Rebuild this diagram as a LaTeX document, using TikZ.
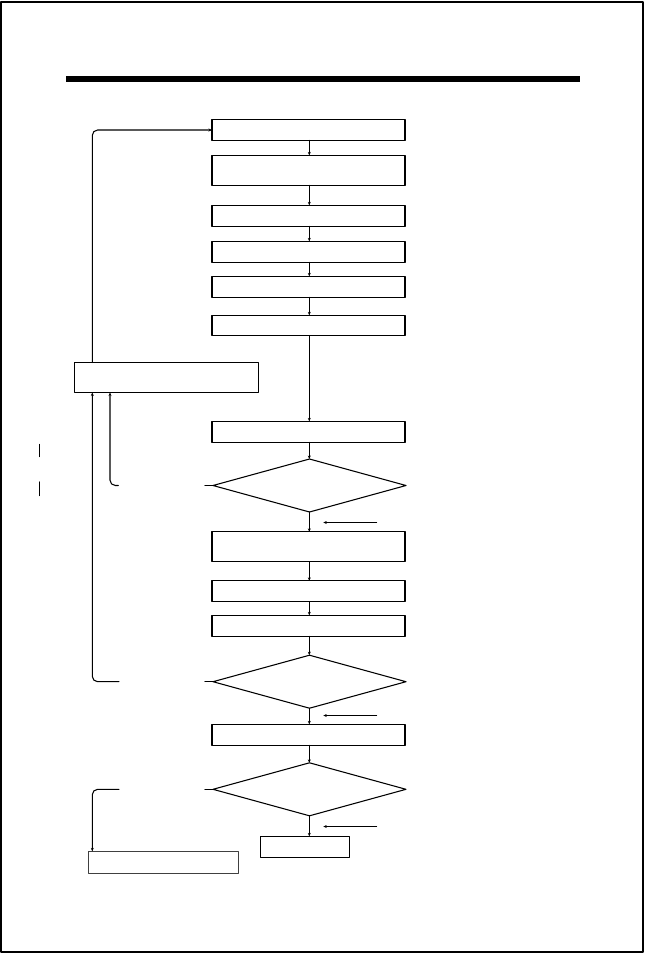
\documentclass[tikz,border=0pt]{standalone}
\usetikzlibrary{shapes.geometric,arrows.meta}
\begin{document}
\begin{tikzpicture}[x=.75pt, y=-.75pt, line join=round, line cap=round, >={Stealth[length=2.6pt,width=2.2pt]},
	box/.style={draw, line width=.8pt, rectangle, inner sep=0pt, outer sep=0pt, minimum width=193*.75pt, minimum height=21*.75pt},
	tall/.style={box, minimum height=30*.75pt},
	test/.style={draw, line width=.8pt, diamond, inner sep=0pt, outer sep=0pt, minimum width=193*.75pt, minimum height=53*.75pt},
	flow/.style={->, line width=.8pt},
	back/.style={->, line width=.8pt, rounded corners=4pt}]
	\def\cx{308.5}
	\useasboundingbox (0,0) rectangle (644,954);
	% page frame and heading rule
	\draw[line width=1.5pt] (1,1.5) rectangle (642.8,951.7);
	\fill (65.7,76.4) rectangle (580,82.1);
	% main column
	\node[box]  (b1)  at (\cx,130) {};
	\node[tall] (b2)  at (\cx,170.4) {};
	\node[box]  (b3)  at (\cx,215.8) {};
	\node[box]  (b4)  at (\cx,251.8) {};
	\node[box]  (b5)  at (\cx,286.8) {};
	\node[box, minimum height=20.4*.75pt] (b6) at (\cx,325.5) {};
	\node[box]  (b7)  at (\cx,431.8) {};
	\node[test] (d1)  at (\cx+1,485.5) {};
	\node[tall] (b8)  at (\cx,546.8) {};
	\node[box]  (b9)  at (\cx,591.3) {};
	\node[box]  (b10) at (\cx,625.8) {};
	\node[test] (d2)  at (\cx+1,681.7) {};
	\node[box]  (b11) at (\cx,734.8) {};
	\node[test] (d3)  at (\cx+1,789.3) {};
	\node[box, minimum width=89*.75pt] (fin) at (304.8,846.8) {};
	% side boxes
	\node[tall, minimum width=184.4*.75pt] (redo) at (166.5,377.5) {};
	\node[box, draw=black!75, line width=1pt, minimum width=150*.75pt, minimum height=22*.75pt] (out) at (163.7,862.3) {};
	% downward arrows
	\foreach \a/\b in {b1/b2, b2/b3, b3/b4, b4/b5, b5/b6, b6/b7, b7/d1, d1/b8, b8/b9, b9/b10, b10/d2, d2/b11, b11/d3, d3/fin}
		\draw[flow] (\a.south -| 309.3,0) -- (\b.north -| 309.3,0);
	% side arrows under the tests
	\foreach \d/\s in {d1/10.5, d2/7.3, d3/10.7}{
		\coordinate (\d r) at ([yshift=-\s*.75pt]\d.south -| 376.7,0);
		\coordinate (\d l) at ([yshift=-\s*.75pt]\d.south -| 323.3,0);
		\draw[flow] (\d r) -- (\d l);
	}
	% stubs to the left of the tests
	\foreach \d in {d1, d2, d3}{
		\coordinate (\d s) at (\d.west -| 205,0);
		\draw[line width=.8pt] (\d.west) -- (\d s);
	}
	% loops back
	\coordinate (rail) at (92.3,0);
	\coordinate (inner) at (110,0);
	\coordinate (d1e) at (d1.west -| 118.3,0);
	\coordinate (d2e) at (d2.west -| 119,0);
	\coordinate (d3e) at (d3.west -| 119,0);
	\draw[back] (redo.north -| rail) |- (b1.west);
	\draw[back] (d1e) -| (redo.south -| inner);
	\draw[back] (d2e) -| (redo.south -| rail);
	\draw[back] (d3e) -| (out.north -| rail);
	% marks on the left
	\draw[line width=.8pt] (39.3,444.3) -- (39.3,456.7);
	\draw[line width=.8pt] (39.3,482) -- (39.3,495.7);
\end{tikzpicture}
\end{document}
